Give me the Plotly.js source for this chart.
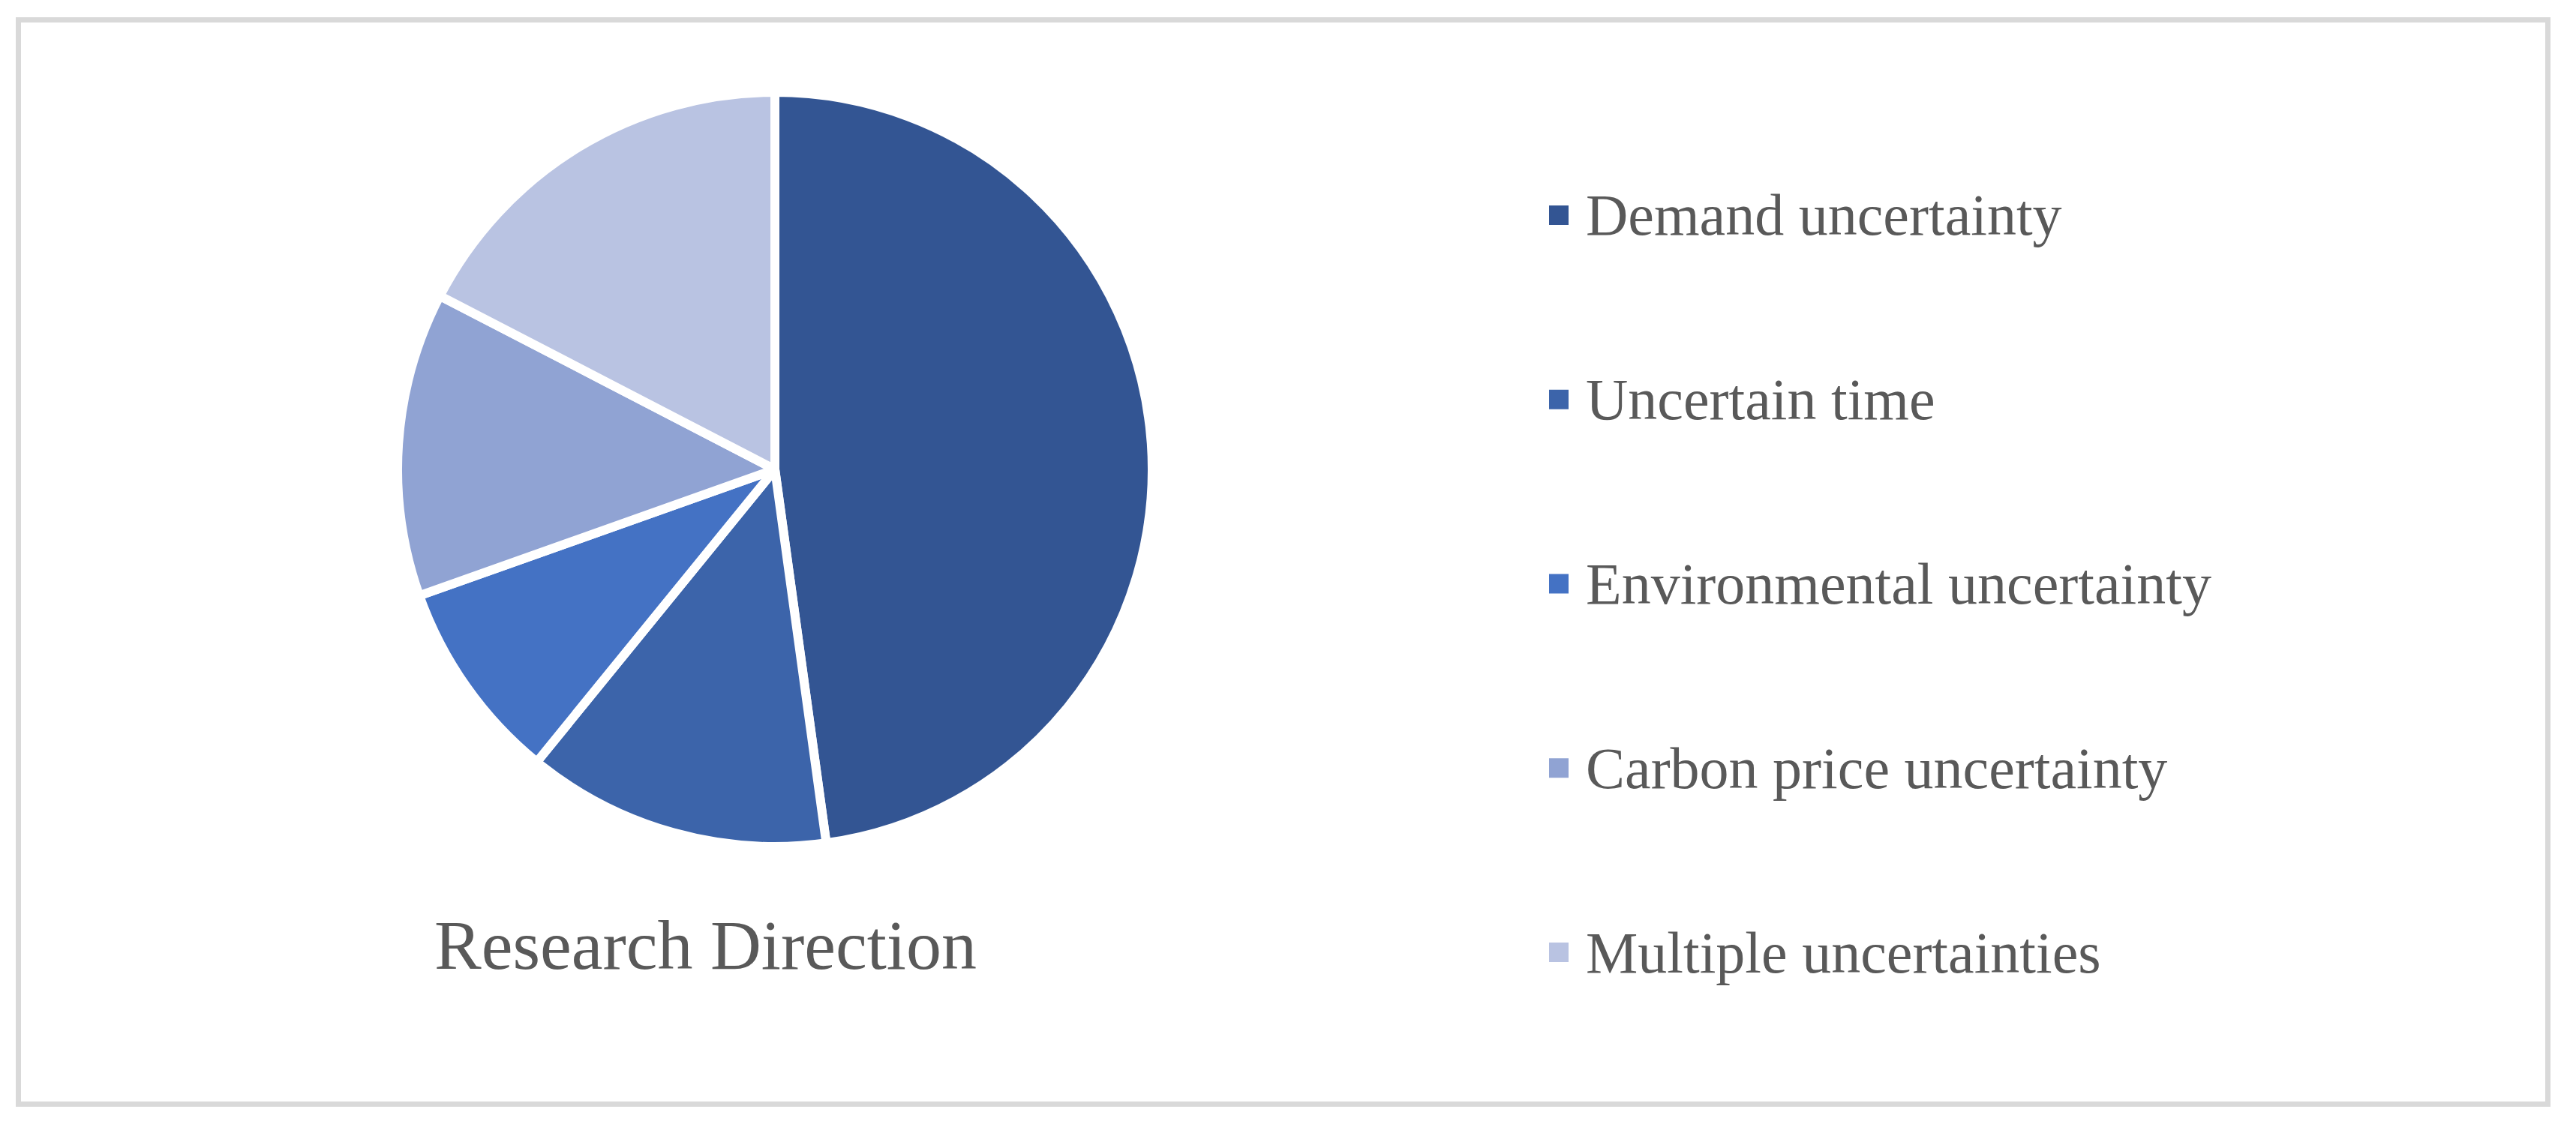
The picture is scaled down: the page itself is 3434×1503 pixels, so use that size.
<!DOCTYPE html>
<html>
<head>
<meta charset="utf-8">
<script src="https://cdn.plot.ly/plotly-3.0.1.min.js"></script>
<style>
  html, body { margin: 0; padding: 0; background: #ffffff; }
  #chart { width: 3434px; height: 1503px; }
</style>
</head>
<body>
<div id="chart"></div>
<script>
// ---- Data ----
const categories = [
  "Demand uncertainty",
  "Uncertain time",
  "Environmental uncertainty",
  "Carbon price uncertainty",
  "Multiple uncertainties"
];
const counts = [11, 3, 2, 3, 4];
const sliceColors = ["#335593", "#3C64AA", "#4472C4", "#90A3D3", "#B9C3E2"];
const chartTitle = "Research Direction";

// ---- Layout helpers (pixel -> paper) ----
const W = 3434, H = 1503;
const px = v => v / W;
const py = v => 1 - v / H;

const cx = 1033, cy = 626, R = 503;

const FONT = "Liberation Serif, Times New Roman, serif";
const TEXT_COLOR = "#595959";

const trace = {
  type: "pie",
  labels: categories,
  values: counts,
  sort: false,
  direction: "clockwise",
  rotation: 0,
  textinfo: "none",
  hoverinfo: "label+value+percent",
  marker: { colors: sliceColors, line: { color: "#ffffff", width: 12 } },
  domain: { x: [px(cx - R), px(cx + R)], y: [py(cy + R), py(cy - R)] },
  showlegend: false
};

// Custom legend (large squares + text), built from the category arrays
const shapes = [
  { type: "rect", xref: "paper", yref: "paper",
    x0: px(24.5), x1: px(3396.5), y0: py(1472.5), y1: py(26.5),
    line: { color: "#D9D9D9", width: 7 }, fillcolor: "rgba(0,0,0,0)" }
];
const annotations = [
  { text: chartTitle, xref: "paper", yref: "paper", x: px(940), y: py(1260),
    xanchor: "center", yanchor: "middle", showarrow: false,
    font: { family: FONT, size: 94, color: TEXT_COLOR } }
];
const legTop = 287, legStep = 245.75, sq = 26;
categories.forEach((c, i) => {
  const yc = legTop + i * legStep;
  shapes.push({ type: "rect", xref: "paper", yref: "paper",
    x0: px(2065), x1: px(2065 + sq), y0: py(yc + sq / 2), y1: py(yc - sq / 2),
    line: { width: 0 }, fillcolor: sliceColors[i] });
  annotations.push({ text: c, xref: "paper", yref: "paper", x: px(2112), y: py(yc),
    xanchor: "left", yanchor: "middle", showarrow: false,
    font: { family: FONT, size: 78, color: TEXT_COLOR } });
});

const layout = {
  width: W, height: H,
  margin: { l: 0, r: 0, t: 0, b: 0 },
  paper_bgcolor: "#ffffff",
  plot_bgcolor: "#ffffff",
  showlegend: false,
  shapes: shapes,
  annotations: annotations
};

Plotly.newPlot("chart", [trace], layout, { displayModeBar: false, staticPlot: true });
</script>
</body>
</html>
